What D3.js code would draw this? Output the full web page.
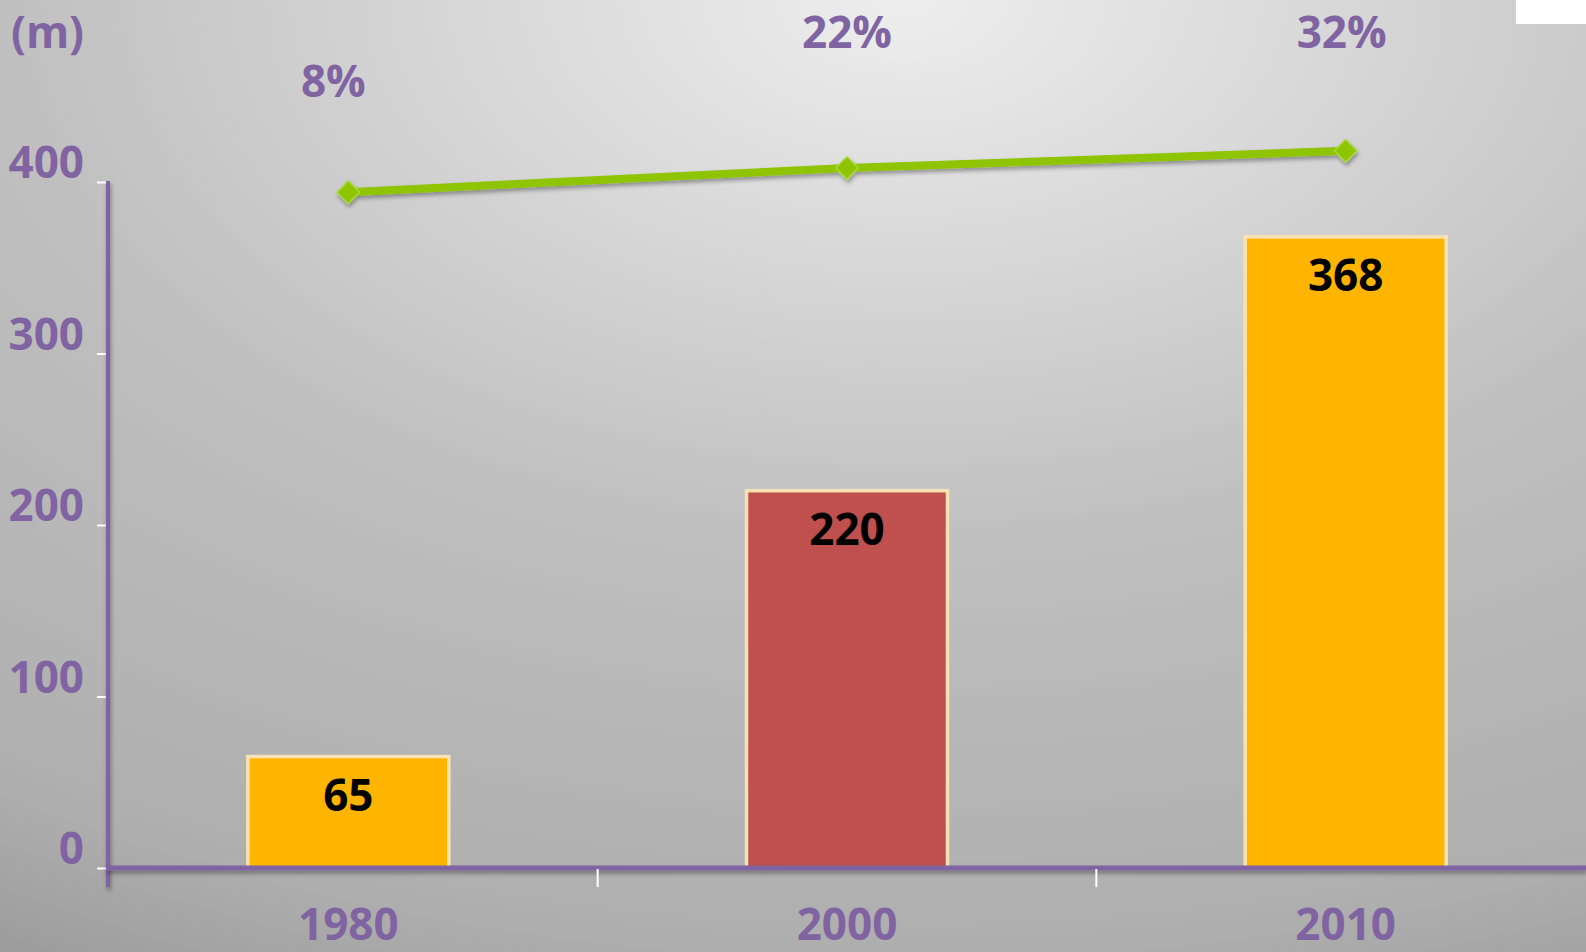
<!DOCTYPE html>
<html>
<head>
<meta charset="utf-8">
<script src="https://cdn.jsdelivr.net/npm/d3@7"></script>
<style>
  html, body { margin: 0; padding: 0; overflow: hidden; }
  svg { display: block; }
</style>
</head>
<body>
<script>
// values
const categories = ["1980", "2000", "2010"];
const barValues = [65, 220, 368];
const barColors = ["#FFB500", "#C0504D", "#FFB500"];
const pctValues = [8, 22, 32];
const pctLabels = ["8%", "22%", "32%"];
const yTicks = [0, 100, 200, 300, 400];
// where the % labels sit relative to their points
const pctLabelDx = [-15, 0, -4];
const pctLabelDy = [-95, -120, -103];

const W = 1586, H = 952;
const purple = "#8064A2";
const font = "'Open Sans', 'Noto Sans', sans-serif";

const svg = d3.select("body")
    .append("svg")
    .attr("width", W)
    .attr("height", H);

const defs = svg.append("defs");

// background gradient, light at top centre, darker towards the corners
const bg = defs.append("radialGradient")
    .attr("id", "bg")
    .attr("cx", 0.57).attr("cy", 0).attr("r", 1.15)
    .attr("fx", 0.57).attr("fy", 0);
bg.append("stop").attr("offset", 0).attr("stop-color", "#EEEEEE");
bg.append("stop").attr("offset", 0.5).attr("stop-color", "#BFBFBF");
bg.append("stop").attr("offset", 0.87).attr("stop-color", "#AEAEAE");
bg.append("stop").attr("offset", 1).attr("stop-color", "#9C9C9C");

// user space filter so it also works on flat lines
const shadow = defs.append("filter")
    .attr("id", "shadow")
    .attr("filterUnits", "userSpaceOnUse")
    .attr("x", 0).attr("y", 0)
    .attr("width", W).attr("height", H);
shadow.append("feDropShadow")
    .attr("dx", 1).attr("dy", 3)
    .attr("stdDeviation", 2)
    .attr("flood-color", "#000")
    .attr("flood-opacity", 0.35);

svg.append("rect")
    .attr("width", W)
    .attr("height", H)
    .attr("fill", "url(#bg)");

// little white patch in the top right corner
svg.append("rect")
    .attr("x", 1516).attr("y", 0)
    .attr("width", 70).attr("height", 24)
    .attr("fill", "#fff");

// scales
const x = d3.scaleBand()
    .domain(categories)
    .range([99, 1595])
    .paddingInner(0.597)
    .paddingOuter(0.2985);

const y = d3.scaleLinear()
    .domain([0, 400])
    .range([868, 182]);

const yPct = d3.scaleLinear()
    .domain([0, 40])
    .range([206, 137]);

const barData = categories.map((c, i) => ({ cat: c, value: barValues[i], color: barColors[i] }));
const lineData = categories.map((c, i) => ({
    cat: c, value: pctValues[i], label: pctLabels[i], dx: pctLabelDx[i], dy: pctLabelDy[i]
}));

// bars
svg.selectAll(".bar")
    .data(barData)
    .enter().append("rect")
    .attr("class", "bar")
    .attr("x", d => x(d.cat))
    .attr("y", d => y(d.value))
    .attr("width", x.bandwidth())
    .attr("height", d => y(0) - y(d.value))
    .attr("fill", d => d.color)
    .attr("stroke", "#F8E2B4")
    .attr("stroke-width", 3.5);

svg.selectAll(".bar-label")
    .data(barData)
    .enter().append("text")
    .attr("class", "bar-label")
    .attr("x", d => x(d.cat) + x.bandwidth() / 2)
    .attr("y", d => y(d.value) + 54)
    .attr("text-anchor", "middle")
    .attr("font-family", font)
    .attr("font-weight", "bold")
    .attr("font-size", 44)
    .attr("fill", "#000")
    .text(d => d.value);

// y axis
const yAxis = svg.append("g")
    .attr("transform", "translate(108,0)")
    .call(d3.axisLeft(y).tickValues(yTicks).tickSize(11).tickPadding(13));
yAxis.select(".domain").remove();
yAxis.selectAll(".tick line")
    .attr("stroke", "#fff")
    .attr("stroke-width", 2);
yAxis.selectAll(".tick text")
    .attr("dy", "-0.1em")
    .attr("fill", purple)
    .attr("font-family", font)
    .attr("font-weight", "bold")
    .attr("font-size", 44);

svg.append("line")
    .attr("x1", 108).attr("x2", 108)
    .attr("y1", y(400) - 1).attr("y2", 887)
    .attr("stroke", purple)
    .attr("stroke-width", 4)
    .attr("filter", "url(#shadow)");

svg.append("text")
    .attr("x", 84)
    .attr("y", 48)
    .attr("text-anchor", "end")
    .attr("font-family", font)
    .attr("font-weight", "bold")
    .attr("font-size", 44)
    .attr("fill", purple)
    .text("(m)");

// x axis
svg.append("line")
    .attr("x1", 106).attr("x2", W)
    .attr("y1", y(0)).attr("y2", y(0))
    .attr("stroke", purple)
    .attr("stroke-width", 5)
    .attr("filter", "url(#shadow)");

const xAxis = svg.append("g")
    .attr("transform", "translate(0," + y(0) + ")")
    .call(d3.axisBottom(x).tickSize(0).tickPadding(41));
xAxis.select(".domain").remove();
xAxis.selectAll(".tick text")
    .attr("fill", purple)
    .attr("font-family", font)
    .attr("font-weight", "bold")
    .attr("font-size", 44);

// white ticks between the categories
svg.selectAll(".xsep")
    .data(categories.slice(1))
    .enter().append("line")
    .attr("class", "xsep")
    .attr("x1", d => x(d) - (x.step() - x.bandwidth()) / 2)
    .attr("x2", d => x(d) - (x.step() - x.bandwidth()) / 2)
    .attr("y1", y(0) + 1)
    .attr("y2", y(0) + 19)
    .attr("stroke", "#fff")
    .attr("stroke-width", 2);

// green line with diamond markers
const line = d3.line()
    .x(d => x(d.cat) + x.bandwidth() / 2)
    .y(d => yPct(d.value));

const lineG = svg.append("g").attr("filter", "url(#shadow)");

lineG.append("path")
    .datum(lineData)
    .attr("d", line)
    .attr("fill", "none")
    .attr("stroke", "#8FC400")
    .attr("stroke-width", 8)
    .attr("stroke-linecap", "round");

lineG.selectAll(".marker")
    .data(lineData)
    .enter().append("path")
    .attr("class", "marker")
    .attr("d", d3.symbol(d3.symbolSquare, 256))
    .attr("transform", d => "translate(" + (x(d.cat) + x.bandwidth() / 2) + "," + yPct(d.value) + ") rotate(45)")
    .attr("fill", "#8FC400")
    .attr("stroke", "#A8D83A")
    .attr("stroke-width", 1.5)
    .attr("stroke-linejoin", "round");

svg.selectAll(".pct-label")
    .data(lineData)
    .enter().append("text")
    .attr("class", "pct-label")
    .attr("x", d => x(d.cat) + x.bandwidth() / 2 + d.dx)
    .attr("y", d => yPct(d.value) + d.dy)
    .attr("text-anchor", "middle")
    .attr("font-family", font)
    .attr("font-weight", "bold")
    .attr("font-size", 44)
    .attr("fill", purple)
    .text(d => d.label);
</script>
</body>
</html>
